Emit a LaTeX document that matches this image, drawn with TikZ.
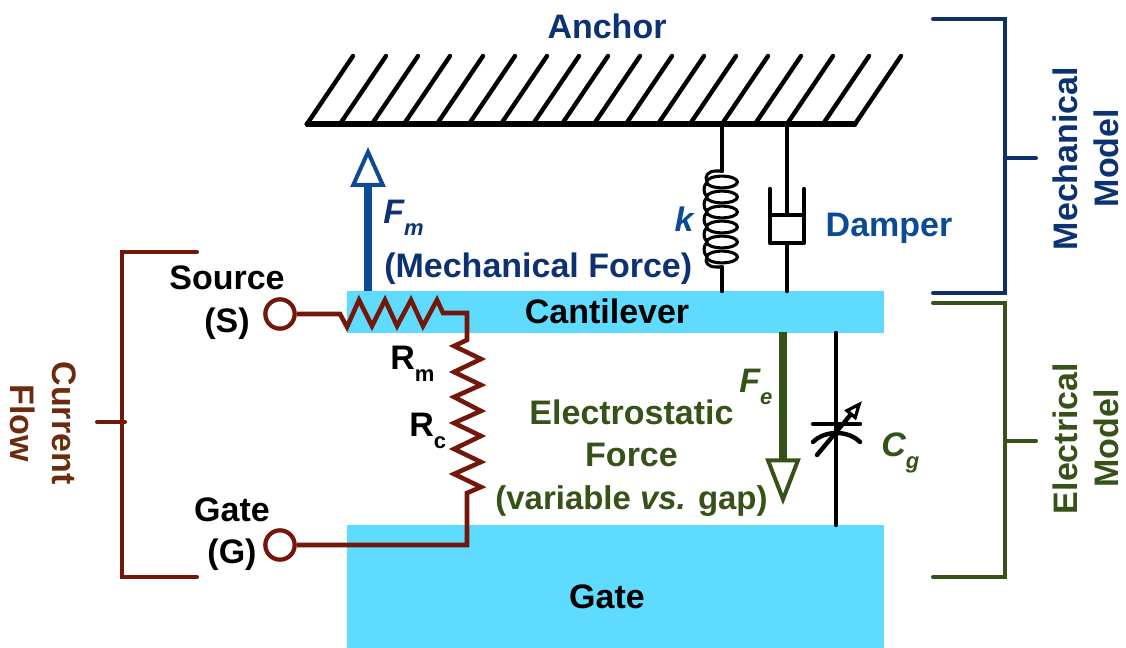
\documentclass[tikz,border=0pt]{standalone}
\usepackage{fontspec}
\setmainfont{Liberation Sans}
\usetikzlibrary{arrows.meta}
\definecolor{cyanfill}{HTML}{5FDBFF}
\definecolor{navylab}{HTML}{0D3272}
\definecolor{fmblue}{HTML}{0B4A95}
\definecolor{navybr}{HTML}{0F2F6B}
\definecolor{greenc}{HTML}{375218}
\definecolor{redc}{HTML}{74170B}
\definecolor{brownt}{HTML}{6A2C0C}
\newcommand{\lab}{\fontsize{25.5}{31}\selectfont\bfseries}
\newcommand{\subs}[1]{\raisebox{-9pt}{\fontsize{16.5}{20}\selectfont #1}}
\tikzset{
  x=0.75pt,y=-0.75pt,
  txt/.style={inner sep=0pt,anchor=base,font=\lab},
  plate/.style={fill=cyanfill,draw=none,minimum width=402.75pt,inner sep=0pt},
  mech/.style={draw=black,line width=3.3pt,line cap=round,line join=round},
  thinmech/.style={draw=black,line width=2.3pt,line cap=round,line join=round},
  wire/.style={draw=redc,line width=3.4pt,line join=miter},
  term/.style={circle,draw=redc,line width=3.2pt,fill=white,minimum size=22pt,inner sep=0pt},
  bracket/.style={line width=3pt,line join=miter,line cap=round},
}
\begin{document}
\begin{tikzpicture}
\useasboundingbox (0,0) rectangle (1126,648);
% plates
\node[plate,minimum height=31.5pt] (cant) at (615.5,312) {};
\node[plate,minimum height=92.25pt] (gateplate) at (615.5,586.5) {};
\node[txt] (canttxt) at (607,323) {Cantilever};
\node[txt] (gatetxt) at (607,608) {Gate};
% anchor
\coordinate (ancL) at (307,124);
\coordinate (ancR) at (855,124);
\draw[mech,line width=3.8pt] (ancL) -- (ancR);
\foreach \b in {307,340,372,404,437,469,501,533,562,594,626,658,690,722,755,787,823,855}
  \draw[mech] (\b,124) -- ++(46,-68);
\node[txt,text=navylab] (anchor) at (607,39) {Anchor};
% spring
\coordinate (sprTop) at (722,124);
\coordinate (sprBot) at (722,291);
\draw[mech] (sprTop) -- (722,171);
\draw[mech] (722,267) -- (sprBot);
\draw[thinmech] (722,171) -- (716,171) .. controls (708,171) and (704,176) .. (707,182);
\draw[thinmech] (722,267) -- (716,267) .. controls (708,267) and (704,262) .. (707,257);
\foreach \c in {182,197,212,227,242,257}
  \draw[thinmech] (722,\c) ellipse [x radius=11.6pt,y radius=4.4pt];
\foreach \c in {182,197,212,227,242}
  \draw[thinmech] (707,\c) .. controls (703,\c+5) and (703,\c+10) .. (707,\c+15);
% damper
\coordinate (dampTop) at (787,124);
\coordinate (dampBot) at (787,291);
\draw[mech] (dampTop) -- (787,214);
\draw[mech] (771,215) -- (803,215);
\draw[mech] (770,189) -- (770,243) -- (804,243) -- (804,189);
\draw[mech] (787,244) -- (dampBot);
\node[txt,text=fmblue] (damper) at (889,237) {Damper};
\node[txt,text=fmblue] (k) at (684,232) {\itshape k};
% Fm arrow
\coordinate (fmS) at (368,291);
\coordinate (fmE) at (368,147);
\draw[fmblue,line width=6pt,-{Triangle[open,length=30pt,width=26pt,line width=3pt]}] (fmS) -- (fmE);
\node[txt,text=navylab,anchor=base west] (fm) at (383,224) {\itshape F\subs{m}};
\node[txt,text=navylab,anchor=base west] (fmtxt) at (384,277) {(Mechanical Force)};
% Fe arrow
\coordinate (feS) at (783,332);
\coordinate (feE) at (783,505);
\draw[greenc,line width=6pt,-{Triangle[open,length=35pt,width=26pt,line width=3pt]}] (feS) -- (feE);
\node[txt,text=greenc,anchor=base west] (fe) at (739,392) {\itshape F\subs{e}};
\node[txt,text=greenc] (etxt) at (631.5,424) {Electrostatic};
\node[txt,text=greenc] (etxtb) at (631.5,466) {Force};
\node[txt,text=greenc,font=\fontsize{24.7}{30}\selectfont\bfseries] (etxtc) at (631.5,509) {(variable \textit{vs.} gap)};
% capacitor
\coordinate (capT) at (836,333);
\coordinate (capB) at (836,525);
\draw[mech] (capT) -- (capB);
\draw[mech] (813,424) -- (860,424);
\draw[mech] (813,442) .. controls (825,430) and (848,430) .. (860,442);
\draw[mech,-{Triangle[open,length=14pt,width=11pt,line width=2.4pt]}] (817,455) -- (862,401);
\node[txt,text=greenc,anchor=base west] (cg) at (881,456) {\itshape C\subs{g}};
% terminals and wires
\node[term] (src) at (280,314) {};
\node[term] (gat) at (280,545) {};
\draw[wire] (src) -- (340,314) -- (347,327) -- (359,300) -- (372,326) -- (385,300) -- (397,326) -- (411,300) -- (423,326) -- (437,300) -- (443,313) -- (467,313) -- (467,340)
 -- (454,346) -- (481,359) -- (454,372) -- (481,385) -- (454,397) -- (481,411) -- (454,423) -- (481,436) -- (454,449) -- (481,462) -- (454,474) -- (481,487) -- (467,493) -- (467,545) -- (gat);
\node[txt] (srctxt) at (227,290) {Source};
\node[txt] (srctxtb) at (227,332) {(S)};
\node[txt] (gattxt) at (232,521) {Gate};
\node[txt] (gattxtb) at (232,563) {(G)};
\node[txt,anchor=base west] (rm) at (390,369) {R\subs{m}};
\node[txt,anchor=base west] (rc) at (409,436) {R\subs{c}};
% brackets
\coordinate (cfA) at (197,252);
\coordinate (cfB) at (197,577);
\coordinate (cfT) at (97,422);
\draw[bracket,redc] (cfA) -- (122,252) -- (122,577) -- (cfB);
\draw[bracket,redc] (cfT) -- (125,422);
\coordinate (meA) at (933,19);
\coordinate (meB) at (933,293);
\coordinate (meT) at (1036,158);
\draw[bracket,navybr] (meA) -- (1005,19) -- (1005,293) -- (meB);
\draw[bracket,navybr] (meT) -- (1005,158);
\coordinate (elA) at (933,303);
\coordinate (elB) at (933,577);
\coordinate (elT) at (1036,441);
\draw[bracket,greenc] (elA) -- (1005,303) -- (1005,577) -- (elB);
\draw[bracket,greenc] (elT) -- (1005,441);
% side labels
\node[txt,text=navylab,rotate=90] (mm) at (1077,158.5) {Mechanical};
\node[txt,text=navylab,rotate=90] (mmb) at (1118,158) {Model};
\node[txt,text=greenc,rotate=90] (em) at (1077,438.5) {Electrical};
\node[txt,text=greenc,rotate=90] (emb) at (1118,438.5) {Model};
\node[txt,text=brownt,rotate=-90] (cf) at (52,423) {Current};
\node[txt,text=brownt,rotate=-90] (cfb) at (11,423) {Flow};
\end{tikzpicture}
\end{document}
